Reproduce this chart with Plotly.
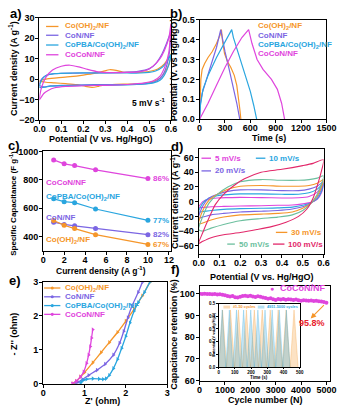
import plotly.graph_objects as go

W, H = 345, 415
FONT = "Liberation Sans, Arial, sans-serif"

ORANGE = "#F5962A"
PURPLE = "#7B66E3"
BLUE = "#2AA6DF"
MAGENTA = "#DF45DD"
GREEN = "#6CBF9E"
CRIMSON = "#E2286A"
RED = "#E8212B"

# ---------------- (a) CV curves at 5 mV/s ----------------
a_pot_cooh = [0.00, 0.03, 0.08, 0.14, 0.20, 0.25, 0.29, 0.32, 0.35, 0.38, 0.42, 0.47, 0.51, 0.54, 0.57, 0.60,
              0.59, 0.57, 0.55, 0.52, 0.48, 0.42, 0.35, 0.30, 0.27, 0.24, 0.21, 0.17, 0.12, 0.07, 0.03, 0.01, 0.00]
a_cur_cooh = [-1.0, 0.0, 0.6, 1.2, 2.0, 2.8, 3.8, 4.6, 4.3, 3.5, 3.3, 3.4, 4.0, 5.0, 7.5, 12.0,
              7.0, 3.0, 0.5, -1.0, -2.0, -2.4, -2.5, -2.8, -3.5, -4.0, -3.5, -2.7, -2.2, -1.8, -1.5, -1.2, -1.0]
a_pot_con = [0.00, 0.01, 0.03, 0.06, 0.10, 0.20, 0.30, 0.40, 0.45, 0.50, 0.53, 0.56, 0.58, 0.60,
             0.59, 0.57, 0.55, 0.52, 0.48, 0.40, 0.30, 0.20, 0.10, 0.05, 0.02, 0.00]
a_cur_con = [-3.0, 0.0, 1.8, 2.6, 2.9, 3.0, 3.1, 3.4, 3.8, 5.0, 7.5, 12.5, 17.5, 23.0,
             11.0, 3.5, 0.3, -1.5, -2.3, -2.6, -2.6, -2.8, -3.0, -3.3, -3.8, -3.0]
a_pot_pba = [0.00, 0.01, 0.03, 0.07, 0.15, 0.30, 0.40, 0.46, 0.50, 0.53, 0.56, 0.58, 0.60,
             0.59, 0.57, 0.55, 0.52, 0.48, 0.40, 0.30, 0.20, 0.10, 0.05, 0.02, 0.00]
a_cur_pba = [-4.0, -0.5, 1.8, 2.7, 3.0, 3.0, 3.0, 3.0, 3.3, 4.0, 5.8, 8.3, 12.0,
             7.0, 2.0, -0.5, -1.8, -2.3, -2.8, -3.0, -3.0, -3.1, -3.4, -4.0, -4.0]
a_pot_cocon = [0.00, 0.01, 0.03, 0.06, 0.10, 0.14, 0.18, 0.22, 0.27, 0.32, 0.40, 0.45, 0.49, 0.52, 0.55, 0.57, 0.59, 0.60,
               0.59, 0.57, 0.55, 0.52, 0.48, 0.40, 0.30, 0.20, 0.12, 0.07, 0.04, 0.02, 0.00]
a_cur_cocon = [-10.0, -4.0, 1.0, 4.5, 6.3, 6.8, 6.0, 4.8, 3.6, 3.2, 3.3, 3.6, 4.5, 6.5, 10.0, 14.0, 20.0, 27.0,
               13.0, 5.5, 1.5, -0.8, -1.8, -2.6, -3.0, -3.2, -3.5, -4.2, -5.5, -7.0, -10.0]

# ---------------- (b) GCD curves ----------------
b_t_cooh = [0, 5, 15, 30, 60, 100, 150, 200, 240, 258, 272, 295, 330, 370, 410, 440, 460, 476, 488]
b_v_cooh = [0.0, 0.12, 0.20, 0.25, 0.28, 0.31, 0.34, 0.38, 0.42, 0.45, 0.39, 0.33, 0.29, 0.26, 0.22, 0.17, 0.11, 0.05, 0.0]
b_t_con = [0, 10, 30, 80, 150, 200, 250, 262, 300, 350, 400, 440, 475]
b_v_con = [0.0, 0.08, 0.13, 0.20, 0.29, 0.36, 0.45, 0.42, 0.34, 0.25, 0.16, 0.08, 0.0]
b_t_pba = [0, 10, 40, 100, 200, 300, 380, 400, 450, 500, 550, 600, 640, 675]
b_v_pba = [0.0, 0.07, 0.15, 0.22, 0.31, 0.39, 0.45, 0.41, 0.34, 0.27, 0.21, 0.14, 0.07, 0.0]
b_t_cocon = [0, 50, 100, 200, 300, 400, 500, 580, 620, 680, 750, 850, 920, 970, 1005]
b_v_cocon = [0.0, 0.04, 0.08, 0.17, 0.26, 0.34, 0.41, 0.45, 0.38, 0.30, 0.25, 0.20, 0.15, 0.08, 0.0]

# ---------------- (c) rate capability ----------------
c_current = [1, 2, 3, 5, 10]
c_cocon = [940, 912, 900, 870, 808]
c_pba = [665, 645, 638, 593, 513]
c_con = [500, 484, 474, 455, 412]
c_cooh = [512, 478, 455, 412, 343]
c_retention = ["86%", "77%", "82%", "67%"]

# ---------------- (d) CoCoN/NF CV at several scan rates ----------------
d_pot = [0.00, 0.02, 0.05, 0.09, 0.14, 0.20, 0.30, 0.40, 0.48, 0.53, 0.57, 0.60,
         0.59, 0.57, 0.54, 0.50, 0.45, 0.38, 0.30, 0.20, 0.12, 0.06, 0.02, 0.00]
d_cur_5 = [-8, 0, 3.5, 5, 5.5, 5.8, 5.5, 5, 5.2, 7, 13, 24,
           12, 3, -1, -3, -4.5, -5, -5.5, -6, -6.5, -7, -8, -8]
d_cur_10 = [-14, -2, 5, 8, 9.5, 10.5, 10.5, 10, 10, 12, 17, 25,
            14, 4, -1.5, -5, -7.5, -8.5, -9, -9.5, -10.5, -12, -13.5, -14]
d_cur_20 = [-22, -6, 5, 10, 14, 16, 16, 15, 15, 17, 21, 27,
            17, 6, -2, -7, -10, -12, -13, -14, -16, -18, -21, -22]
d_cur_30 = [-30, -12, 2, 10, 17, 21, 22, 21, 21, 22, 25, 30,
            20, 8, -2, -9, -14, -16, -17, -18, -21, -25, -29, -30]
d_cur_50 = [-38, -20, -2, 10, 20, 27, 30, 29, 29, 30, 32, 35,
            24, 10, -2, -12, -18, -21, -23, -26, -31, -36, -40, -38]
d_pot_100 = [0.00, 0.02, 0.05, 0.08, 0.12, 0.17, 0.22, 0.30, 0.40, 0.50, 0.55, 0.60,
             0.59, 0.57, 0.55, 0.52, 0.48, 0.42, 0.35, 0.28, 0.20, 0.12, 0.06, 0.02, 0.00]
d_cur_100 = [-57, -42, -22, -4, 10, 22, 31, 40, 44, 49, 52, 57,
             42, 22, 5, -10, -20, -28, -34, -38, -42, -45, -49, -54, -57]
d_rates = ["5 mV/s", "10 mV/s", "20 mV/s", "30 mV/s", "50 mV/s", "100 mV/s"]

# ---------------- (e) Nyquist plots ----------------
e_re_cooh = [0.73, 0.80, 0.90, 1.00, 1.20, 1.40, 1.60, 1.80, 2.00, 2.20, 2.40, 2.58]
e_im_cooh = [0.00, 0.07, 0.20, 0.33, 0.62, 0.92, 1.22, 1.52, 1.85, 2.20, 2.60, 3.00]
e_re_con = [0.78, 0.85, 0.95, 1.10, 1.30, 1.50, 1.70, 1.85, 1.95, 2.05, 2.15, 2.30, 2.40]
e_im_con = [0.00, 0.05, 0.12, 0.25, 0.40, 0.58, 0.85, 1.20, 1.55, 1.95, 2.30, 2.70, 3.00]
e_re_pba = [0.90, 0.92, 0.97, 1.05, 1.20, 1.35, 1.45, 1.52, 1.60, 1.70, 1.80, 1.90, 2.00, 2.10, 2.20, 2.30, 2.45, 2.58]
e_im_pba = [0.00, 0.05, 0.10, 0.13, 0.15, 0.14, 0.13, 0.15, 0.25, 0.45, 0.72, 1.05, 1.40, 1.80, 2.15, 2.40, 2.70, 3.00]
e_re_cocon = [0.70, 0.80, 0.90, 0.98, 1.05, 1.10, 1.14, 1.17, 1.20]
e_im_cocon = [0.00, 0.08, 0.20, 0.35, 0.60, 0.85, 1.10, 1.35, 1.60]

# ---------------- (f) cycling stability ----------------
f_cycles = list(range(0, 5001, 100))
f_retention = [100.0, 99.9, 100.0, 99.8, 99.9, 99.7, 99.8, 99.6, 99.7, 99.5,
               99.3, 98.9, 98.7, 98.9, 98.4, 98.2, 98.6, 98.9, 99.1, 98.8,
               99.0, 98.7, 98.5, 98.8, 98.6, 98.3, 98.0, 97.7, 97.9, 97.4,
               97.1, 97.5, 97.3, 97.6, 97.2, 97.4, 97.3, 97.1, 97.3, 97.0,
               96.8, 97.0, 96.9, 96.7, 96.9, 96.6, 96.8, 96.5, 96.4, 96.2, 95.8]
inset_t_first = [0, 24, 49, 73, 98, 122, 147, 171, 196, 220, 245, 269, 294, 318, 343, 367, 392, 416, 441, 465, 490]
inset_v_first = [0, 0.45, 0, 0.45, 0, 0.45, 0, 0.45, 0, 0.45, 0, 0.45, 0, 0.45, 0, 0.45, 0, 0.45, 0, 0.45, 0]
inset_t_last = [0, 22, 44, 66, 88, 110, 132, 154, 176, 198, 220, 242, 264, 286, 308, 330, 352, 374, 396, 418, 440]
inset_v_last = [0, 0.45, 0, 0.45, 0, 0.45, 0, 0.45, 0, 0.45, 0, 0.45, 0, 0.45, 0, 0.45, 0, 0.45, 0, 0.45, 0]

MATERIALS = ["Co(OH)<sub>2</sub>/NF", "CoN/NF", "CoPBA/Co(OH)<sub>2</sub>/NF", "CoCoN/NF"]
MAT_COLORS = [ORANGE, PURPLE, BLUE, MAGENTA]


def fx(p):
    return p / W


def fy(p):
    return 1 - p / H


# panel boxes in pixels: (left, right), (top, bottom)
BOX = {
    "a": ((35, 173), (13, 118)),
    "b": ((203, 336), (15, 117)),
    "c": ((39, 173), (150, 252)),
    "d": ((202, 333), (148, 255)),
    "e": ((39, 169), (284, 388)),
    "f": ((203, 340), (288, 385)),
    "g": ((223, 308), (306, 371)),
}
AX_ID = {"a": "", "b": "2", "c": "3", "d": "4", "e": "5", "f": "6", "g": "7"}


def tfont(size=9, color="black"):
    return dict(family=FONT, size=size, color=color, weight="bold")


def make_axes(key, xr, yr, xdt, ydt, xfmt=None, yfmt=None, tsize=9, lw=1.1, tl=3, xso=-3, yso=-1):
    (l, r), (t, b) = BOX[key]
    s = AX_ID[key]
    common = dict(showline=True, mirror=True, linecolor="black", linewidth=lw, ticks="outside",
                  ticklen=tl, tickwidth=1, tickcolor="black", showgrid=False, zeroline=False,
                  tickfont=tfont(tsize), fixedrange=True)
    xa = dict(common, domain=[fx(l), fx(r)], range=xr, dtick=xdt, tick0=0, anchor="y" + s,
              ticklabelstandoff=xso)
    ya = dict(common, domain=[fy(b), fy(t)], range=yr, dtick=ydt, tick0=0, anchor="x" + s,
              ticklabelstandoff=yso)
    if xfmt:
        xa["tickformat"] = xfmt
    if yfmt:
        ya["tickformat"] = yfmt
    return {"xaxis" + s: xa, "yaxis" + s: ya}


fig = go.Figure()


def add(key, **kw):
    s = AX_ID[key]
    fig.add_trace(go.Scatter(xaxis="x" + s, yaxis="y" + s, showlegend=False, hoverinfo="skip", **kw))


# (a)
for pot, cur, col in [(a_pot_cooh, a_cur_cooh, ORANGE), (a_pot_con, a_cur_con, PURPLE),
                      (a_pot_pba, a_cur_pba, BLUE), (a_pot_cocon, a_cur_cocon, MAGENTA)]:
    add("a", x=pot, y=cur, mode="lines", line=dict(color=col, width=1.2, shape="spline", smoothing=0.7))

# (b)
for t, v, col in [(b_t_cooh, b_v_cooh, ORANGE), (b_t_con, b_v_con, PURPLE),
                  (b_t_pba, b_v_pba, BLUE), (b_t_cocon, b_v_cocon, MAGENTA)]:
    add("b", x=t, y=v, mode="lines", line=dict(color=col, width=1.2))

# (c)
for vals, col in [(c_cocon, MAGENTA), (c_pba, BLUE), (c_con, PURPLE), (c_cooh, ORANGE)]:
    add("c", x=c_current, y=vals, mode="lines+markers", line=dict(color=col, width=1.2),
        marker=dict(color=col, size=5))

# (d)
for pot, cur, col in [(d_pot, d_cur_5, MAGENTA), (d_pot, d_cur_10, BLUE), (d_pot, d_cur_20, PURPLE),
                      (d_pot, d_cur_30, ORANGE), (d_pot, d_cur_50, GREEN), (d_pot_100, d_cur_100, CRIMSON)]:
    add("d", x=pot, y=cur, mode="lines", line=dict(color=col, width=1.1, shape="spline", smoothing=0.7))

# (e)
for re_, im_, col in [(e_re_cooh, e_im_cooh, ORANGE), (e_re_con, e_im_con, PURPLE),
                      (e_re_pba, e_im_pba, BLUE), (e_re_cocon, e_im_cocon, MAGENTA)]:
    add("e", x=re_, y=im_, mode="lines+markers", line=dict(color=col, width=1.3, shape="spline", smoothing=0.6),
        marker=dict(color=col, size=4, symbol="triangle-right"))

# (f)
add("f", x=f_cycles, y=f_retention, mode="lines+markers", line=dict(color=MAGENTA, width=1),
    marker=dict(color=MAGENTA, size=4))

# (f) inset
add("g", x=inset_t_first, y=inset_v_first, mode="lines", fill="tozeroy",
    fillcolor="rgba(245,150,42,0.28)", line=dict(color="rgba(245,150,42,0.45)", width=0.6))
add("g", x=inset_t_last, y=inset_v_last, mode="lines", fill="tozeroy",
    fillcolor="rgba(42,166,223,0.28)", line=dict(color="rgba(42,166,223,0.45)", width=0.6))

layout = dict(width=W, height=H, margin=dict(l=0, r=0, t=0, b=0), paper_bgcolor="white",
              plot_bgcolor="white", showlegend=False)
layout.update(make_axes("a", [0, 0.6], [-20, 30], 0.1, 10, xfmt=".1f"))
layout.update(make_axes("b", [0, 1500], [0, 0.5], 300, 0.1, yfmt=".1f"))
layout.update(make_axes("c", [0, 12.2], [297, 1000], 2, 200))
layout.update(make_axes("d", [0, 0.6], [-71, 71], 0.1, 20, xfmt=".1f"))
layout.update(make_axes("e", [0, 3], [0, 3], 1, 1))
layout.update(make_axes("f", [0, 5150], [60, 103.5], 1000, 10))
layout.update(make_axes("g", [0, 500], [0, 0.5], 100, 0.1, yfmt=".1f", tsize=4.5, lw=0.8, tl=1.5,
                        xso=-1, yso=0))

ann = []
shapes = []


def text(px, py, s, size=9, color="black", xanchor="center", angle=0):
    ann.append(dict(x=fx(px), y=fy(py), xref="paper", yref="paper", text=s, showarrow=False,
                    xanchor=xanchor, yanchor="middle", textangle=angle, font=tfont(size, color)))


def key_line(x0, x1, py, color, marker=False):
    shapes.append(dict(type="line", xref="paper", yref="paper", x0=fx(x0), x1=fx(x1), y0=fy(py), y1=fy(py),
                       line=dict(color=color, width=1.3)))
    if marker:
        xm = (x0 + x1) / 2
        shapes.append(dict(type="circle", xref="paper", yref="paper", x0=fx(xm - 1.6), x1=fx(xm + 1.6),
                           y0=fy(py + 1.6), y1=fy(py - 1.6), fillcolor=color, line=dict(color=color, width=0)))


# panel letters
for lab, (px, py) in {"a)": (10, 9), "b)": (178, 9), "c)": (8, 144), "d)": (179, 145),
                      "e)": (9, 282), "f)": (178, 271)}.items():
    text(px, py, lab, size=13)

# axis titles
g1 = "A g<sup>-1</sup>"
text(100, 137, "Potential (V vs. Hg/HgO)")
text(8, 65, "Current density (" + g1 + ")", angle=-90)
text(276, 136, "Time (s)")
text(177, 66, "Potential (V. vs Hg/HgO)", angle=-90)
text(100, 272, "Current density (" + g1 + ")", size=8.5)
text(7, 203, "Specific Capacitance (F g<sup>-1</sup>)", size=8, angle=-90)
text(268, 279, "Potential (V vs. Hg/HgO)")
text(177, 201, "Current density (" + g1 + ")", angle=-90)
text(101, 406, "Z' (ohm)")
text(8, 337, "- Z'' (ohm)", angle=-90)
text(272, 405, "Cycle number (N)")
text(176, 337, "Capacitance retention (%)", angle=-90)

# (a) key
for i, (name, col) in enumerate(zip(MATERIALS, MAT_COLORS)):
    py = [22, 31, 41, 51][i]
    key_line(42, 55, py, col)
    text(60, py, name, size=8, color=col, xanchor="left")
text(149, 100, "5 mV s<sup>-1</sup>", size=8.5)

# (b) key
for i, (name, col) in enumerate(zip(MATERIALS, MAT_COLORS)):
    text(262, [22, 31, 41, 50][i], name, size=8, color=col, xanchor="left")

# (c) labels
for name, col, py in [("CoCoN/NF", MAGENTA, 182), ("CoPBA/Co(OH)<sub>2</sub>/NF", BLUE, 197),
                      ("CoN/NF", PURPLE, 218), ("Co(OH)<sub>2</sub>/NF", ORANGE, 241)]:
    text(40, py, name, size=8, color=col, xanchor="left")
for lab, col, val in [(c_retention[0], MAGENTA, c_cocon[-1]), (c_retention[1], BLUE, c_pba[-1]),
                      (c_retention[2], PURPLE, c_con[-1]), (c_retention[3], ORANGE, c_cooh[-1])]:
    ann.append(dict(x=10.3, y=val, xref="x3", yref="y3", text=lab, showarrow=False, xanchor="left",
                    yanchor="middle", font=tfont(8, col)))

# (d) key
for lab, col, x0, x1, py in [(d_rates[0], MAGENTA, 205, 215, 157), (d_rates[1], BLUE, 262, 272, 157),
                             (d_rates[2], PURPLE, 205, 215, 170), (d_rates[3], ORANGE, 283, 295, 233),
                             (d_rates[4], GREEN, 232, 240, 245), (d_rates[5], CRIMSON, 280, 292, 245)]:
    key_line(x0, x1, py, col)
    text(x1 + 2, py, lab, size=8, color=col, xanchor="left")

# (e) key
for i, (name, col) in enumerate(zip(MATERIALS, MAT_COLORS)):
    py = [290, 299, 308, 317][i]
    key_line(40, 57, py, col, marker=True)
    text(60, py, name, size=8, color=col, xanchor="left")

# (f) labels
text(279, 290, "●", size=7, color=MAGENTA)
text(285, 290, "CoCoN/NF", size=9, color=MAGENTA, xanchor="left")
ann.append(dict(x=4380, y=88.6, xref="x6", yref="y6", ax=4960, ay=95.4, axref="x6", ayref="y6",
                text="", showarrow=True, arrowhead=2, arrowsize=1, arrowwidth=1.1, arrowcolor=ORANGE))
ann.append(dict(x=4420, y=86.4, xref="x6", yref="y6", text="95.8%", showarrow=False,
                xanchor="center", yanchor="middle", font=tfont(9, RED)))

# inset texts
text(218, 338, "Potential (V vs. Hg/HgO)", size=3.8, angle=-90)
text(265, 382, "Time (s)", size=4.5)
shapes.append(dict(type="rect", xref="paper", yref="paper", x0=fx(228), x1=fx(235), y0=fy(311), y1=fy(308),
                   fillcolor="rgba(245,150,42,0.35)", line=dict(width=0)))
text(236, 309.5, "#1-50 cycles", size=3.8, color=ORANGE, xanchor="left")
shapes.append(dict(type="rect", xref="paper", yref="paper", x0=fx(264), x1=fx(271), y0=fy(311), y1=fy(308),
                   fillcolor="rgba(42,166,223,0.35)", line=dict(width=0)))
text(272, 309.5, "4951-5000 cycles", size=3.8, color=BLUE, xanchor="left")

layout["annotations"] = ann
layout["shapes"] = shapes
fig.update_layout(**layout)
fig.write_html("out.html")
